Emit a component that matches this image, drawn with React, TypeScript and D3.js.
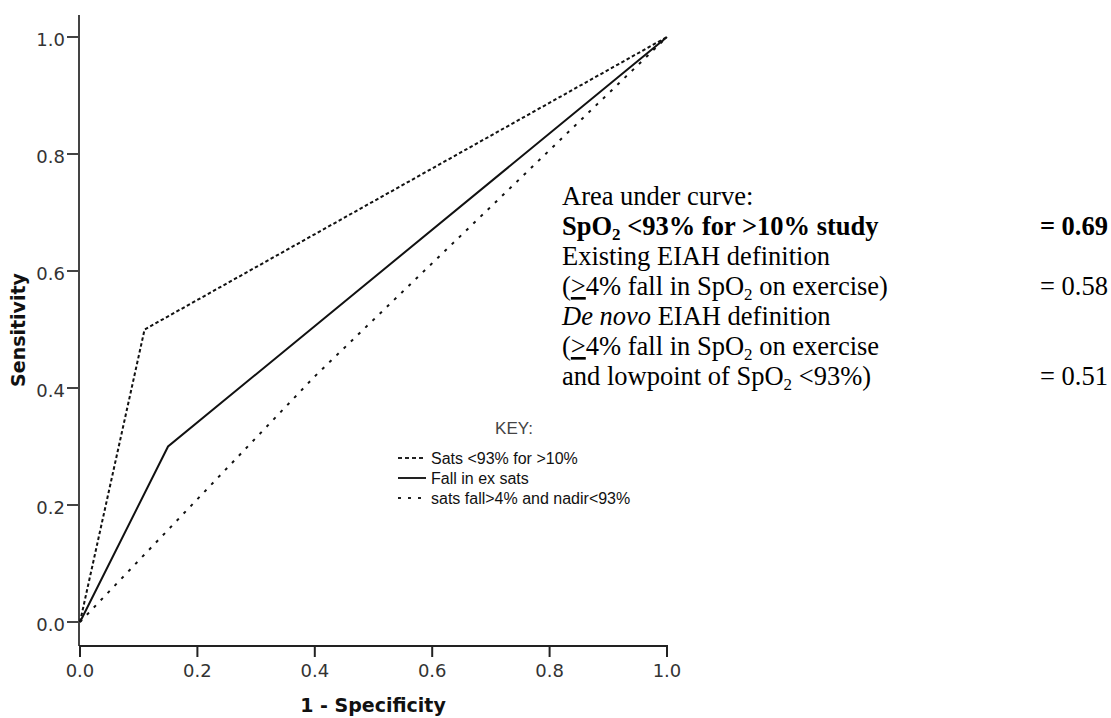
import React from "react";
import * as d3 from "d3";

// ROC curve data (1 - specificity, sensitivity)
const satsBelow93: [number, number][] = [[0, 0], [0.11, 0.5], [1, 1]];
const fallInExSats: [number, number][] = [[0, 0], [0.15, 0.3], [1, 1]];
const fallAndNadir: [number, number][] = [[0, 0], [0.4, 0.42], [1, 1]];

const seriesNames = ["Sats <93% for >10%", "Fall in ex sats", "sats fall>4% and nadir<93%"];
const xTicks = [0, 0.2, 0.4, 0.6, 0.8, 1.0];
const yTicks = [0, 0.2, 0.4, 0.6, 0.8, 1.0];
const aucValues = ["= 0.69", "= 0.58", "= 0.51"];

const W = 1111;
const H = 718;

export default function App() {
  const x = d3.scaleLinear().domain([0, 1]).range([80, 667]);
  const y = d3.scaleLinear().domain([0, 1]).range([622, 37]);
  const line = d3
    .line<[number, number]>()
    .x((d) => x(d[0]))
    .y((d) => y(d[1]));

  const series = [
    { data: satsBelow93, dash: "3.5,2.5" },
    { data: fallInExSats, dash: "" },
    { data: fallAndNadir, dash: "3,7" },
  ];

  const axisFont = "'DejaVu Sans', Verdana, sans-serif";
  const serif = "'Liberation Serif', 'Times New Roman', serif";
  const legFont = "'Liberation Sans', Arial, sans-serif";
  const fs = 26.5;
  const lh = 30;
  const top = 205;
  const tx = 562;
  const rx = 1108;
  const subSize = 17;
  const subDy = 5;

  return (
    <div style={{ position: "absolute", left: 0, top: 0 }}>
      <svg width={W} height={H} style={{ display: "block", background: "#fff" }}>
        {/* axes */}
        <line x1={79} x2={79} y1={15} y2={646} stroke="#444" strokeWidth={2} />
        <line x1={79} x2={x(1) + 1} y1={646} y2={646} stroke="#222" strokeWidth={2} />
        {yTicks.map((t) => (
          <g key={"y" + t}>
            <line x1={67} x2={79} y1={y(t)} y2={y(t)} stroke="#444" strokeWidth={2} />
            <text x={65} y={y(t) + 8.5} textAnchor="end" fontFamily={axisFont} fontSize={18} fill="#333">
              {d3.format(".1f")(t)}
            </text>
          </g>
        ))}
        {xTicks.map((t) => (
          <g key={"x" + t}>
            <line x1={x(t)} x2={x(t)} y1={646} y2={657} stroke="#222" strokeWidth={2} />
            <text x={x(t)} y={677} textAnchor="middle" fontFamily={axisFont} fontSize={18} fill="#333">
              {d3.format(".1f")(t)}
            </text>
          </g>
        ))}
        <text
          transform={`translate(25,330) rotate(-90)`}
          textAnchor="middle"
          fontFamily={axisFont}
          fontWeight="bold"
          fontSize={19}
          fill="#111"
        >
          Sensitivity
        </text>
        <text x={373} y={712} textAnchor="middle" fontFamily={axisFont} fontWeight="bold" fontSize={19} fill="#111">
          1 - Specificity
        </text>

        {/* curves */}
        {series.map((s, i) => (
          <path
            key={i}
            d={line(s.data) || ""}
            fill="none"
            stroke="#111"
            strokeWidth={2}
            strokeDasharray={s.dash || undefined}
          />
        ))}

        {/* legend */}
        <text x={514} y={434} textAnchor="middle" fontFamily={legFont} fontSize={17} fill="#444">
          KEY:
        </text>
        {seriesNames.map((name, i) => (
          <g key={name}>
            <line
              x1={398}
              x2={426}
              y1={458 + i * 20}
              y2={458 + i * 20}
              stroke="#222"
              strokeWidth={2}
              strokeDasharray={i === 0 ? "4,3" : i === 2 ? "3,7" : undefined}
            />
            <text x={431} y={464 + i * 20} fontFamily={legFont} fontSize={16} fill="#111">
              {name}
            </text>
          </g>
        ))}

        {/* AUC annotation */}
        <g fontFamily={serif} fontSize={fs} fill="#000">
          <text x={tx} y={top}>Area under curve:</text>
          <text x={tx} y={top + lh} fontWeight="bold">
            <tspan>SpO</tspan>
            <tspan fontSize={subSize} dy={subDy}>2</tspan>
            <tspan dy={-subDy}> &lt;93% for &gt;10% study</tspan>
          </text>
          <text x={rx} y={top + lh} fontWeight="bold" textAnchor="end">{aucValues[0]}</text>
          <text x={tx} y={top + 2 * lh}>Existing EIAH definition</text>
          <text x={tx} y={top + 3 * lh}>
            <tspan>(</tspan>
            <tspan style={{ textDecoration: "underline" }}>&gt;</tspan>
            <tspan>4% fall in SpO</tspan>
            <tspan fontSize={subSize} dy={subDy}>2</tspan>
            <tspan dy={-subDy}> on exercise)</tspan>
          </text>
          <text x={rx} y={top + 3 * lh} textAnchor="end">{aucValues[1]}</text>
          <text x={tx} y={top + 4 * lh}>
            <tspan fontStyle="italic">De novo</tspan>
            <tspan> EIAH definition</tspan>
          </text>
          <text x={tx} y={top + 5 * lh}>
            <tspan>(</tspan>
            <tspan style={{ textDecoration: "underline" }}>&gt;</tspan>
            <tspan>4% fall in SpO</tspan>
            <tspan fontSize={subSize} dy={subDy}>2</tspan>
            <tspan dy={-subDy}> on exercise</tspan>
          </text>
          <text x={tx} y={top + 6 * lh}>
            <tspan>and lowpoint of SpO</tspan>
            <tspan fontSize={subSize} dy={subDy}>2</tspan>
            <tspan dy={-subDy}> &lt;93%)</tspan>
          </text>
          <text x={rx} y={top + 6 * lh} textAnchor="end">{aucValues[2]}</text>
        </g>
      </svg>
    </div>
  );
}
